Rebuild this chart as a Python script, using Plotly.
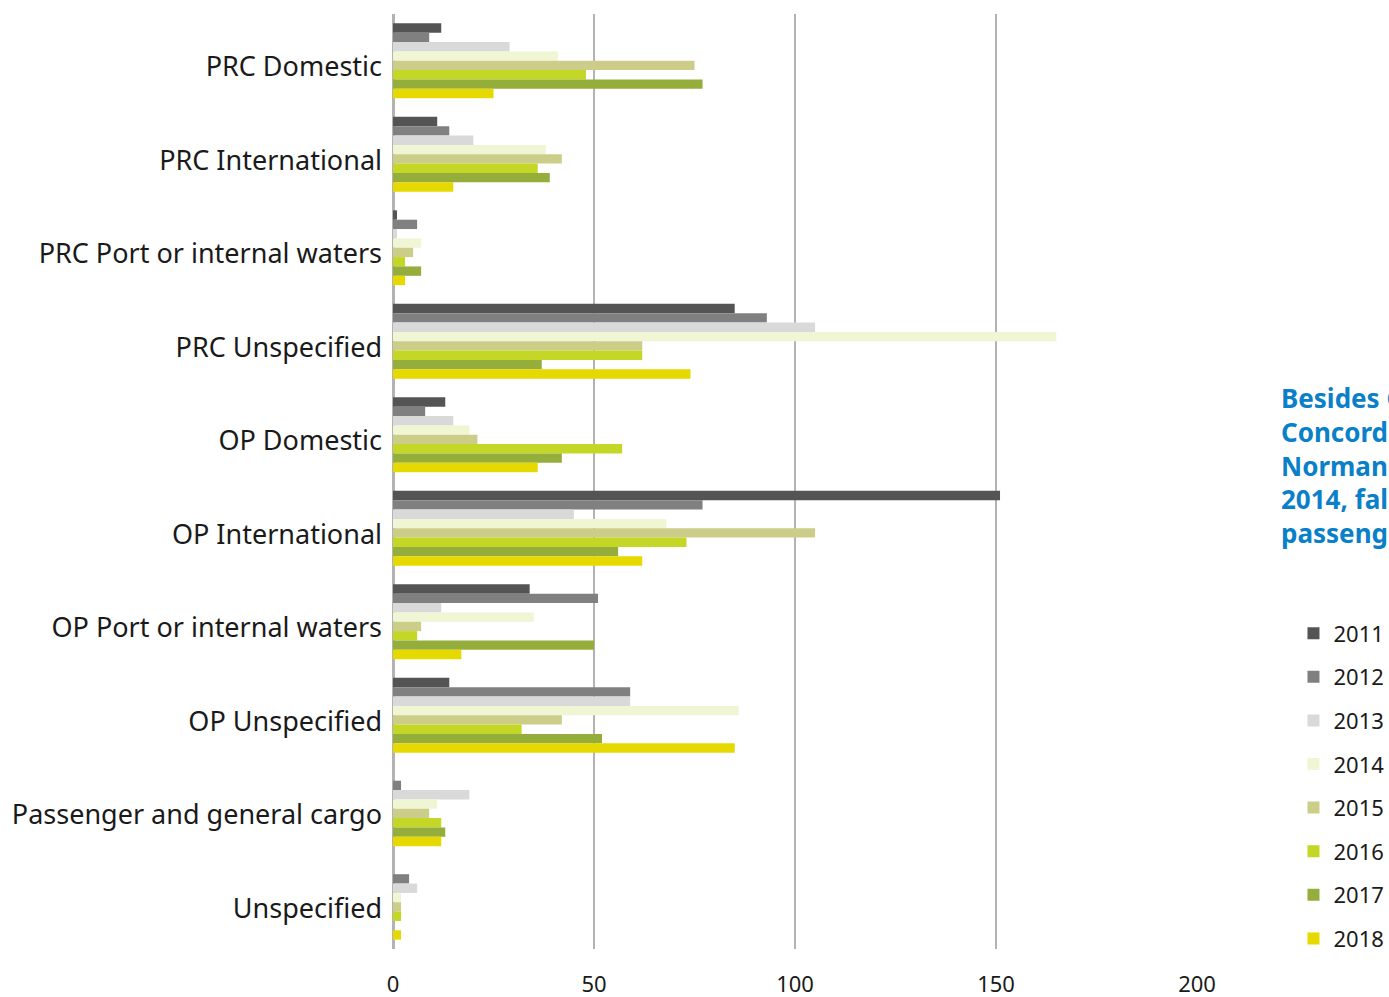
import plotly.graph_objects as go

categories = ["PRC Domestic", "PRC International", "PRC Port or internal waters",
              "PRC Unspecified", "OP Domestic", "OP International",
              "OP Port or internal waters", "OP Unspecified",
              "Passenger and general cargo", "Unspecified"]

years = ["2011", "2012", "2013", "2014", "2015", "2016", "2017", "2018"]

v2011 = [12, 11, 1, 85, 13, 151, 34, 14, 0, 0]
v2012 = [9, 14, 6, 93, 8, 77, 51, 59, 2, 4]
v2013 = [29, 20, 1, 105, 15, 45, 12, 59, 19, 6]
v2014 = [41, 38, 7, 165, 19, 68, 35, 86, 11, 2]
v2015 = [75, 42, 5, 62, 21, 105, 7, 42, 9, 2]
v2016 = [48, 36, 3, 62, 57, 73, 6, 32, 12, 2]
v2017 = [77, 39, 7, 37, 42, 56, 50, 52, 13, 0]
v2018 = [25, 15, 3, 74, 36, 62, 17, 85, 12, 2]

series = [v2011, v2012, v2013, v2014, v2015, v2016, v2017, v2018]
colors = ["#545454", "#808080", "#d9d9d9", "#f0f5d4",
          "#cccd88", "#c4d626", "#94ad3b", "#e6d900"]

x_ticks = [0, 50, 100, 150, 200]

note = "Besides Costa<br>Concordia and<br>Normandy in<br>2014, falling<br>passenger"

FONT = "Noto Sans"

fig = go.Figure()
for i, (yr, vals) in enumerate(zip(years, series)):
    fig.add_trace(go.Bar(
        y=categories, x=vals, name=yr, orientation="h",
        marker=dict(color=colors[i], line=dict(width=0)),
        legendgroup=yr,
    ))

fig.update_layout(
    width=1389, height=997,
    margin=dict(l=393, r=192, t=14, b=48, autoexpand=False),
    paper_bgcolor="white", plot_bgcolor="white",
    barmode="group", bargap=0.2, bargroupgap=0,
    font=dict(family=FONT, color="#1a1a1a"),
    showlegend=True,
    legend=dict(
        x=1.12, xanchor="left", y=0.36, yanchor="top",
        traceorder="grouped", tracegroupgap=12,
        font=dict(size=22, family=FONT, color="#1a1a1a"),
        itemwidth=30, bgcolor="rgba(0,0,0,0)",
    ),
    xaxis=dict(
        range=[0, 200], tickvals=x_ticks, ticktext=[str(t) for t in x_ticks],
        showgrid=True, gridcolor="#b3b3b3", gridwidth=2,
        zeroline=True, zerolinecolor="#b3b3b3", zerolinewidth=3,
        showline=False,
        tickfont=dict(size=22, family=FONT, color="#1a1a1a"),
        ticks="", ticklabelstandoff=20,
    ),
    yaxis=dict(
        autorange="reversed", showgrid=False, zeroline=False,
        showline=False,
        tickfont=dict(size=27, family=FONT, color="#1a1a1a"),
        ticks="", ticklabelstandoff=10, ticklabelshift=-6,
    ),
    annotations=[dict(
        x=1.102, y=0.517, xref="paper", yref="paper",
        xanchor="left", yanchor="middle", align="left",
        text="<b>" + note + "</b>", showarrow=False,
        font=dict(size=26, family=FONT, color="#0a80c8"),
    )],
)

fig.write_html(
    "out.html",
    config={"displayModeBar": False},
    post_script="document.body.style.margin='0';document.body.style.overflow='hidden';",
)
